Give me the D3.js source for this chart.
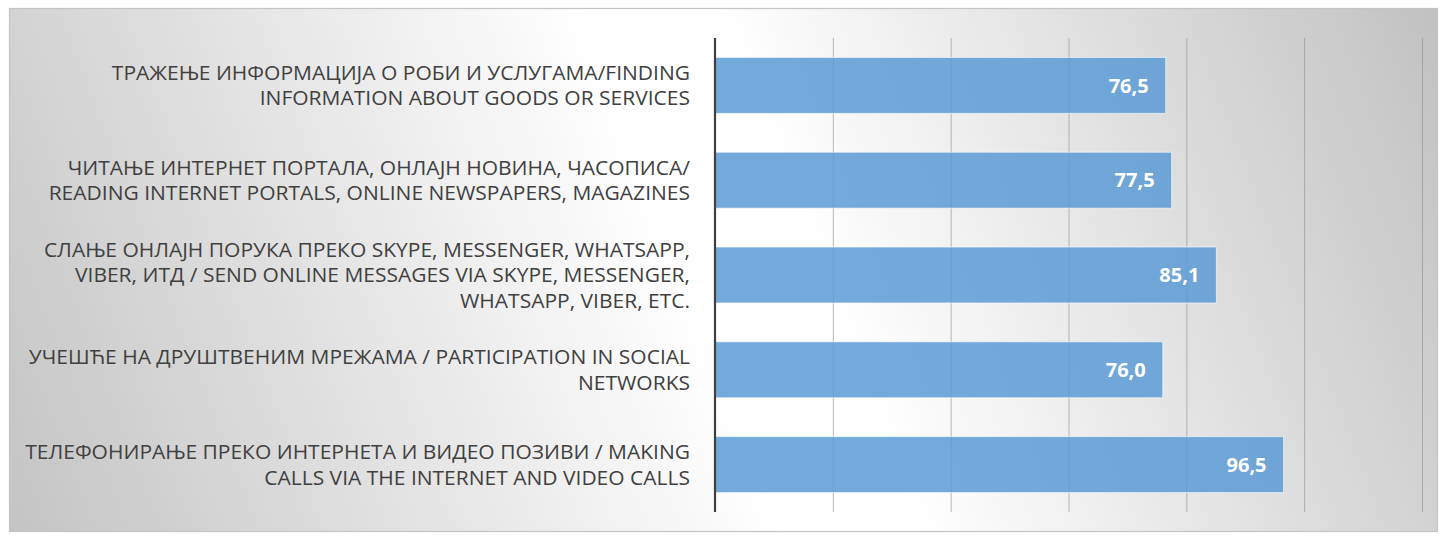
<!DOCTYPE html>
<html><head><meta charset="utf-8">
<script src="https://cdn.jsdelivr.net/npm/d3@7"></script>
<style>body{margin:0;background:#fff;}svg{display:block;}</style>
</head><body>
<svg id="chart" width="1441" height="537"></svg>
<script>
const categories = [
  ["ТРАЖЕЊЕ ИНФОРМАЦИЈА О РОБИ И УСЛУГАМА/FINDING", "INFORMATION ABOUT GOODS OR SERVICES"],
  ["ЧИТАЊЕ ИНТЕРНЕТ ПОРТАЛА, ОНЛАЈН НОВИНА, ЧАСОПИСА/", "READING INTERNET PORTALS, ONLINE NEWSPAPERS, MAGAZINES"],
  ["СЛАЊЕ ОНЛАЈН ПОРУКА ПРЕКО SKYPE, MESSENGER, WHATSAPP,", "VIBER, ИТД / SEND ONLINE MESSAGES VIA SKYPE, MESSENGER,", "WHATSAPP, VIBER, ETC."],
  ["УЧЕШЋЕ НА ДРУШТВЕНИМ МРЕЖАМА / PARTICIPATION IN SOCIAL", "NETWORKS"],
  ["ТЕЛЕФОНИРАЊЕ ПРЕКО ИНТЕРНЕТА И ВИДЕО ПОЗИВИ / MAKING", "CALLS VIA THE INTERNET AND VIDEO CALLS"]
];
const values = [76.5, 77.5, 85.1, 76.0, 96.5];
const ticks = [0, 20, 40, 60, 80, 100, 120];

const svg = d3.select("#chart");
const defs = svg.append("defs");
const grad = defs.append("linearGradient").attr("id","bg")
  .attr("gradientUnits","userSpaceOnUse")
  .attr("x1",22).attr("y1",550).attr("x2",1478).attr("y2",-10);
grad.append("stop").attr("offset","0").attr("stop-color","#c4c4c4");
grad.append("stop").attr("offset","0.46").attr("stop-color","#ffffff");
grad.append("stop").attr("offset","0.54").attr("stop-color","#ffffff");
grad.append("stop").attr("offset","1").attr("stop-color","#bdbdbd");

svg.append("rect").attr("x",9.5).attr("y",8.5).attr("width",1428).attr("height",523)
  .attr("fill","url(#bg)").attr("stroke","#c4c4c4").attr("stroke-width",1.2);

const x = d3.scaleLinear().domain([0,120]).range([715,1422]);
const y = d3.scaleBand().domain(d3.range(values.length)).range([38,512]).paddingInner(0.41).paddingOuter(0.205);

// gridlines
svg.append("g").selectAll("line").data(ticks.slice(1)).join("line")
  .attr("x1",d=>x(d)+0.5).attr("x2",d=>x(d)+0.5).attr("y1",38).attr("y2",512)
  .attr("stroke","#8c8c8c").attr("stroke-opacity",0.6).attr("stroke-width",1);

// bars
svg.append("g").selectAll("rect").data(values).join("rect")
  .attr("x",x(0)).attr("y",(d,i)=>y(i)).attr("width",d=>x(d)-x(0)).attr("height",y.bandwidth())
  .attr("fill","#5b9bd5").attr("fill-opacity",0.85).attr("stroke","#ffffff").attr("stroke-opacity",0.6).attr("stroke-width",1);

// axis line
svg.append("line").attr("x1",x(0)).attr("x2",x(0)).attr("y1",38).attr("y2",512)
  .attr("stroke","#404040").attr("stroke-width",2.2);

// value labels
svg.append("g").selectAll("text").data(values).join("text")
  .attr("x",d=>x(d)-17).attr("y",(d,i)=>y(i)+y.bandwidth()/2).attr("dy","0.36em")
  .attr("text-anchor","end").attr("font-family","Open Sans, sans-serif").attr("font-weight","bold")
  .attr("font-size",20).attr("fill","#ffffff")
  .text(d=>d.toFixed(1).replace(".",","));

// category labels
const lh = 25.5;
const lab = svg.append("g").selectAll("g").data(categories).join("g")
  .attr("transform",(d,i)=>`translate(690,${y(i)+y.bandwidth()/2})`);
lab.each(function(lines){
  const g = d3.select(this).append("g").attr("transform","scale(1.05,1)");
  const t = g.append("text").attr("text-anchor","end").attr("font-family","Open Sans, sans-serif")
    .attr("font-size",20).attr("fill","#404040");
  lines.forEach((s,k)=>{
    t.append("tspan").attr("x",0).attr("y",(k-(lines.length-1)/2)*lh).attr("dy","0.36em").text(s);
  });
});
</script>
</body></html>
